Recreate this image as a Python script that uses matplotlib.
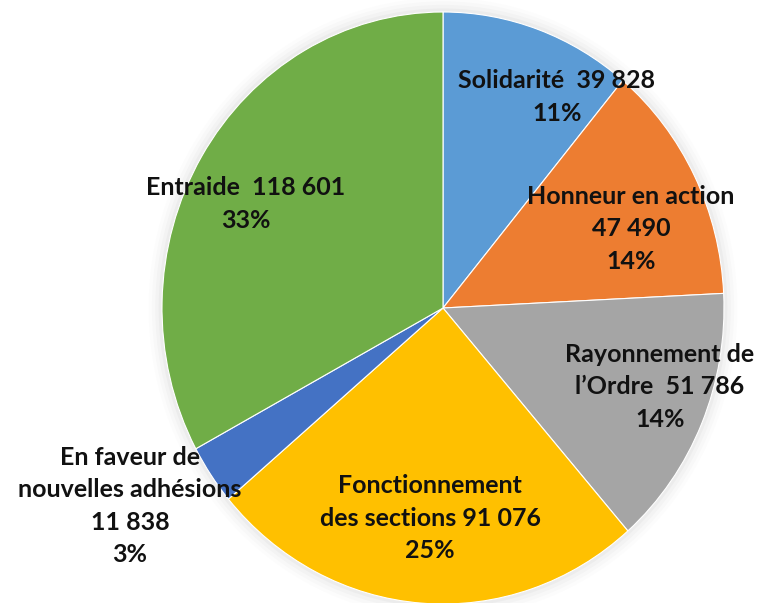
import matplotlib.pyplot as plt

categories = ["Solidarité", "Honneur en action", "Rayonnement de l'Ordre",
              "Fonctionnement des sections", "En faveur de nouvelles adhésions", "Entraide"]
values = [39828, 47490, 51786, 91076, 11838, 118601]
shown_pct = ["11%", "14%", "14%", "25%", "3%", "33%"]
label_texts = [
    "Solidarité  39 828\n11%",
    "Honneur en action\n47 490\n14%",
    "Rayonnement de\nl\u2019Ordre  51 786\n14%",
    "Fonctionnement\ndes sections 91 076\n25%",
    "En faveur de\nnouvelles adhésions\n11 838\n3%",
    "Entraide  118 601\n33%",
]
colors = ["#5B9BD5", "#ED7D31", "#A5A5A5", "#FFC000", "#4472C4", "#70AD47"]

# label centres in pixels of the 760x603 picture
label_px = [(557, 97), (631, 229), (660, 387), (430, 518), (130, 506), (246, 204)]

W, H = 760, 603
fig = plt.figure(figsize=(W / 100, H / 100), dpi=100)
plt.rcParams['font.family'] = ['Lato', 'DejaVu Sans']

cx, cy, rx, ry = 443, 308, 281, 296
ax = fig.add_axes([0, 0, 1, 1])

# soft shadow
for i, a in enumerate([0.05, 0.04, 0.03, 0.02]):
    ax.pie([1], radius=1 + 0.012 * (i + 1), colors=["#808080"],
           wedgeprops=dict(alpha=a, linewidth=0))

ax.pie(values, colors=colors, startangle=90, counterclock=False,
       wedgeprops=dict(edgecolor="white", linewidth=0.8))
ax.set_aspect('auto')
ax.set_xlim(-1.05, 1.05)
ax.set_ylim(-1.05, 1.05)
ax.set_position([(cx - rx * 1.05) / W, (H - cy - ry * 1.05) / H,
                 2 * rx * 1.05 / W, 2 * ry * 1.05 / H])
ax.axis('off')

for txt, (px, py) in zip(label_texts, label_px):
    fig.text(px / W, 1 - py / H, txt, ha='center', va='center', multialignment='center',
             fontsize=18, fontweight='bold', color='#111111', linespacing=1.5)

fig.savefig("out.png", dpi=100)
